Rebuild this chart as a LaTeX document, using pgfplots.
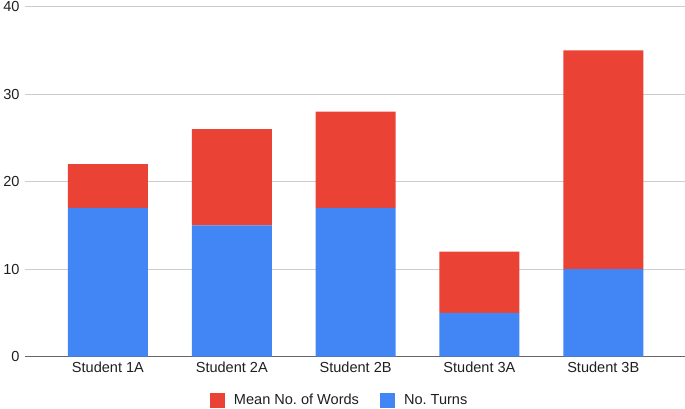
\documentclass[border=0pt]{standalone}
\usepackage{pgfplots}
\pgfplotsset{compat=1.18}
\usepackage{fontspec}
\setmainfont{Liberation Sans}
\definecolor{gred}{HTML}{EA4335}
\definecolor{gblue}{HTML}{4285F4}
\begin{document}
\frenchspacing
\begin{tikzpicture}
\begin{axis}[
  at={(0,0)}, anchor=south west,
  scale only axis, width=660bp, height=350bp,
  ybar stacked, bar width=80bp,
  xmin=-0.67, xmax=4.66, ymin=0, ymax=40,
  ytick={0,10,20,30,40},
  xtick={0,1,2,3,4},
  xticklabels={Student 1A,Student 2A,Student 2B,Student 3A,Student 3B},
  major tick length=0pt,
  axis line style={draw=none},
  ymajorgrids, grid style={draw=black!20, line width=0.8pt},
  extra y ticks={0}, extra y tick labels={},
  extra y tick style={grid style={draw=black!60, line width=1.2pt}},
  /pgf/number format/assume math mode=true,
  tick label style={font=\fontsize{14.6}{16}\selectfont, text=black!88},
  yticklabel style={xshift=-2bp},
  xticklabel style={yshift=-1.5bp},
  legend style={at={(0.475,-0.125)}, anchor=center, draw=none, legend columns=2,
    font=\fontsize{14.6}{16}\selectfont\frenchspacing, text=black!88,
    nodes={inner sep=0pt},
    /tikz/every odd column/.append style={column sep=9.3bp},
    /tikz/every even column/.append style={column sep=20.7bp}},
  legend image code/.code={\fill[#1] (0bp,-7.5bp) rectangle (15bp,7.5bp);},
]
\addlegendimage{fill=gred,draw=none}
\addlegendentry{Mean No.\ of Words}
\addlegendimage{fill=gblue,draw=none}
\addlegendentry{No.\ Turns}
\addplot[fill=gblue, draw=none, forget plot] coordinates {(0,17) (1,15) (2,17) (3,5) (4,10)};
\addplot[fill=gred, draw=none, forget plot] coordinates {(0,5) (1,11) (2,11) (3,7) (4,25)};
\end{axis}
\pgfresetboundingbox
\path (-25bp,-52.3bp) rectangle (660bp,356.7bp);
\end{tikzpicture}
\end{document}
